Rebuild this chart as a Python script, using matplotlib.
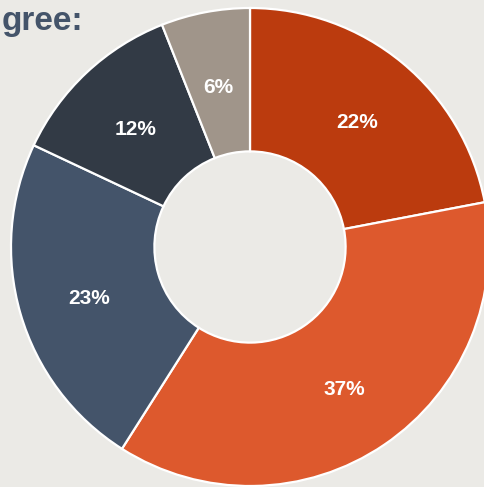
import matplotlib.pyplot as plt

plt.rcParams['font.family'] = ['Liberation Sans', 'DejaVu Sans']

# Share of responses, clockwise from the top
labels = ['22%', '37%', '23%', '12%', '6%']
values = [22, 37, 23, 12, 6]
colors = ['#BB3B0E', '#DD592D', '#44546A', '#323A45', '#A0958A']
title_text = 'gree:'

bg = '#EBEAE6'
W, H = 484, 487
cx, cy, R = 250, 247, 239  # pie centre and radius, in pixels

fig = plt.figure(figsize=(W / 100, H / 100), dpi=100, facecolor=bg)
ax = fig.add_axes([0, 0, 1, 1])
ax.set_facecolor(bg)

wedges, texts, autotexts = ax.pie(
    values, colors=colors, startangle=90, counterclock=False,
    labels=None, autopct=lambda p: '', pctdistance=0.7,
    wedgeprops=dict(width=0.6, edgecolor='white', linewidth=1.6),
)
# labels: white bold, baseline placed so the glyphs sit centred in the ring
for t, lab in zip(autotexts, labels):
    x, y = t.get_position()
    t.set_position((x, y - 10 / R))
    t.set_text(lab)
    t.set_va('baseline')
    t.set_color('white')
    t.set_fontsize(15)
    t.set_fontweight('bold')

ax.set_aspect('auto')
ax.set_xlim(-cx / R, (W - cx) / R)
ax.set_ylim((cy - H) / R, cy / R)
ax.axis('off')

fig.text(83 / W, 1 - 30 / H, title_text, ha='right', va='baseline',
         fontsize=24, fontweight='bold', color='#44546A')

fig.savefig('out.png', dpi=100, facecolor=bg)
